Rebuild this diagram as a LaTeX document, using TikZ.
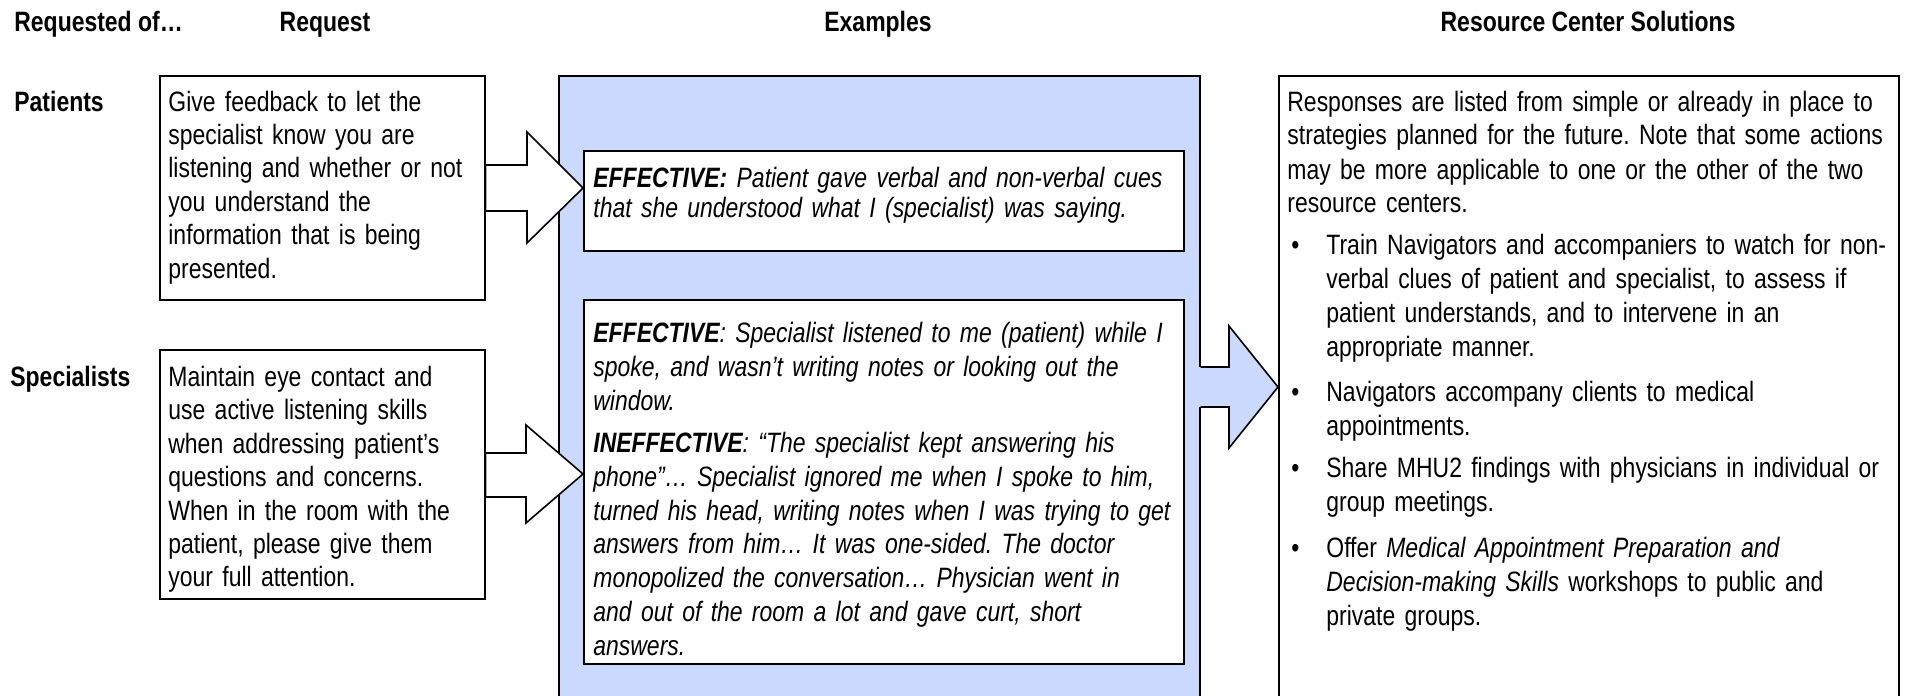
\documentclass[tikz,border=0pt]{standalone}
\usepackage{fontspec}
\setmainfont{Liberation Sans}[FakeStretch=0.82]
\usetikzlibrary{calc}
\definecolor{panelblue}{RGB}{204,217,255}
\frenchspacing
\tikzset{
  frame/.style={draw=black, line width=0.8pt, fill=white, inner sep=0pt, anchor=north west},
  body/.style={inner sep=0pt, anchor=base west, align=left,
    font=\fontsize{14}{16.7}\selectfont},
  colhead/.style={inner sep=0pt, anchor=base, font=\bfseries\fontsize{14}{16.7}\selectfont},
  rowhead/.style={inner sep=0pt, anchor=base west, font=\bfseries\fontsize{14}{16.7}\selectfont},
  blockw/.style={draw=black, line width=0.8pt, fill=white, line join=miter},
  outline/.style={draw=black, line width=0.8pt, line join=miter},
}
\begin{document}
\begin{tikzpicture}[x=0.5pt, y=-0.5pt]
\useasboundingbox (0,0) rectangle (1906,696);
\clip (0,0) rectangle (1906,696);

% column headings
\node[rowhead] (hreqof) at (14,31.5) {Requested of…};
\node[colhead] (hreq)   at (325,31.5) {Request};
\node[colhead] (hex)    at (878,31.5) {Examples};
\node[colhead] (hsol)   at (1588,31.5) {Resource Center Solutions};

% row headings
\node[rowhead] (lpat)  at (14,111) {Patients};
\node[rowhead] (lspec) at (10,386.5) {Specialists};

% request boxes
\node[frame, minimum width=162.5pt, minimum height=112pt] (pbox) at (159,75) {};
\node[frame, minimum width=162.5pt, minimum height=124.5pt] (sbox) at (159,349) {};
\node[body, text width=170pt] (ptext) at (168,111)
  {Give feedback to let the\\
   specialist know you are\\
   listening and whether or not\\
   you understand the\\
   information that is being\\
   presented.};
\node[body, text width=170pt] (stext) at (168,386.5)
  {Maintain eye contact and\\
   use active listening skills\\
   when addressing patient’s\\
   questions and concerns.\\
   When in the room with the\\
   patient, please give them\\
   your full attention.};

% examples panel
\node[frame, fill=panelblue, minimum width=320.5pt, minimum height=330pt] (ebox) at (558,75) {};
\node[frame, minimum width=300pt, minimum height=50pt] (eff1) at (583,150) {};
\node[frame, minimum width=300pt, minimum height=182pt] (eff2) at (583,299) {};
\node[body, text width=320pt, font=\itshape\fontsize{14}{15}\selectfont] (e1text) at (593,187)
  {\textbf{EFFECTIVE:} Patient gave verbal and non-verbal cues\\
   that she understood what I (specialist) was saying.};
\node[body, text width=320pt, font=\itshape\fontsize{14}{16.9}\selectfont] (e2text) at (593,342.5)
  {\textbf{EFFECTIVE}: Specialist listened to me (patient) while I\\
   spoke, and wasn’t writing notes or looking out the\\
   window.\par\vspace{4.3pt}
   \textbf{INEFFECTIVE}: “The specialist kept answering his\\
   phone”… Specialist ignored me when I spoke to him,\\
   turned his head, writing notes when I was trying to get\\
   answers from him… It was one-sided. The doctor\\
   monopolized the conversation… Physician went in\\
   and out of the room a lot and gave curt, short\\
   answers.};

% solutions box
\node[frame, minimum width=310pt, minimum height=330pt] (rbox) at (1278,75) {};
\node[body, text width=320pt, font=\fontsize{14}{17}\selectfont] (rintro) at (1287,111)
  {Responses are listed from simple or already in place to\\
   strategies planned for the future. Note that some actions\\
   may be more applicable to one or the other of the two\\
   resource centers.};
\node[body] (bul1) at (1291,254.5) {•};
\node[body, text width=300pt, font=\fontsize{14}{17}\selectfont] (b1) at (1326,254.5)
  {Train Navigators and accompaniers to watch for non-\\
   verbal clues of patient and specialist, to assess if\\
   patient understands, and to intervene in an\\
   appropriate manner.};
\node[body] (bul2) at (1291,401.5) {•};
\node[body, text width=300pt, font=\fontsize{14}{17}\selectfont] (b2) at (1326,401.5)
  {Navigators accompany clients to medical\\
   appointments.};
\node[body] (bul3) at (1291,477.5) {•};
\node[body, text width=300pt, font=\fontsize{14}{17}\selectfont] (b3) at (1326,477.5)
  {Share MHU2 findings with physicians in individual or\\
   group meetings.};
\node[body] (bul4) at (1291,557.5) {•};
\node[body, text width=300pt, font=\fontsize{14}{17}\selectfont] (b4) at (1326,557.5)
  {Offer \textit{Medical Appointment Preparation and}\\
   \textit{Decision-making Skills} workshops to public and\\
   private groups.};

% block arrows from the requests to the examples
\filldraw[blockw] (pbox.east |- 0,165) -- (527,165) -- (527,132) -- (eff1.west |- 0,188)
  -- (527,243) -- (527,211) -- (pbox.east |- 0,211) -- cycle;
\filldraw[blockw] (sbox.east |- 0,453) -- (526,453) -- (526,425) -- (eff2.west |- 0,474)
  -- (526,523) -- (526,497) -- (sbox.east |- 0,497) -- cycle;

% block arrow from the examples panel to the solutions
\fill[panelblue] ($(ebox.east |- 0,367)+(-3,0)$) -- (1229,367) -- (1229,326) -- (rbox.west |- 0,387)
  -- (1229,448) -- (1229,407) -- ($(ebox.east |- 0,407)+(-3,0)$) -- cycle;
\draw[outline] (ebox.east |- 0,367) -- (1229,367) -- (1229,326) -- (rbox.west |- 0,387)
  -- (1229,448) -- (1229,407) -- (ebox.east |- 0,407);
\end{tikzpicture}
\end{document}
